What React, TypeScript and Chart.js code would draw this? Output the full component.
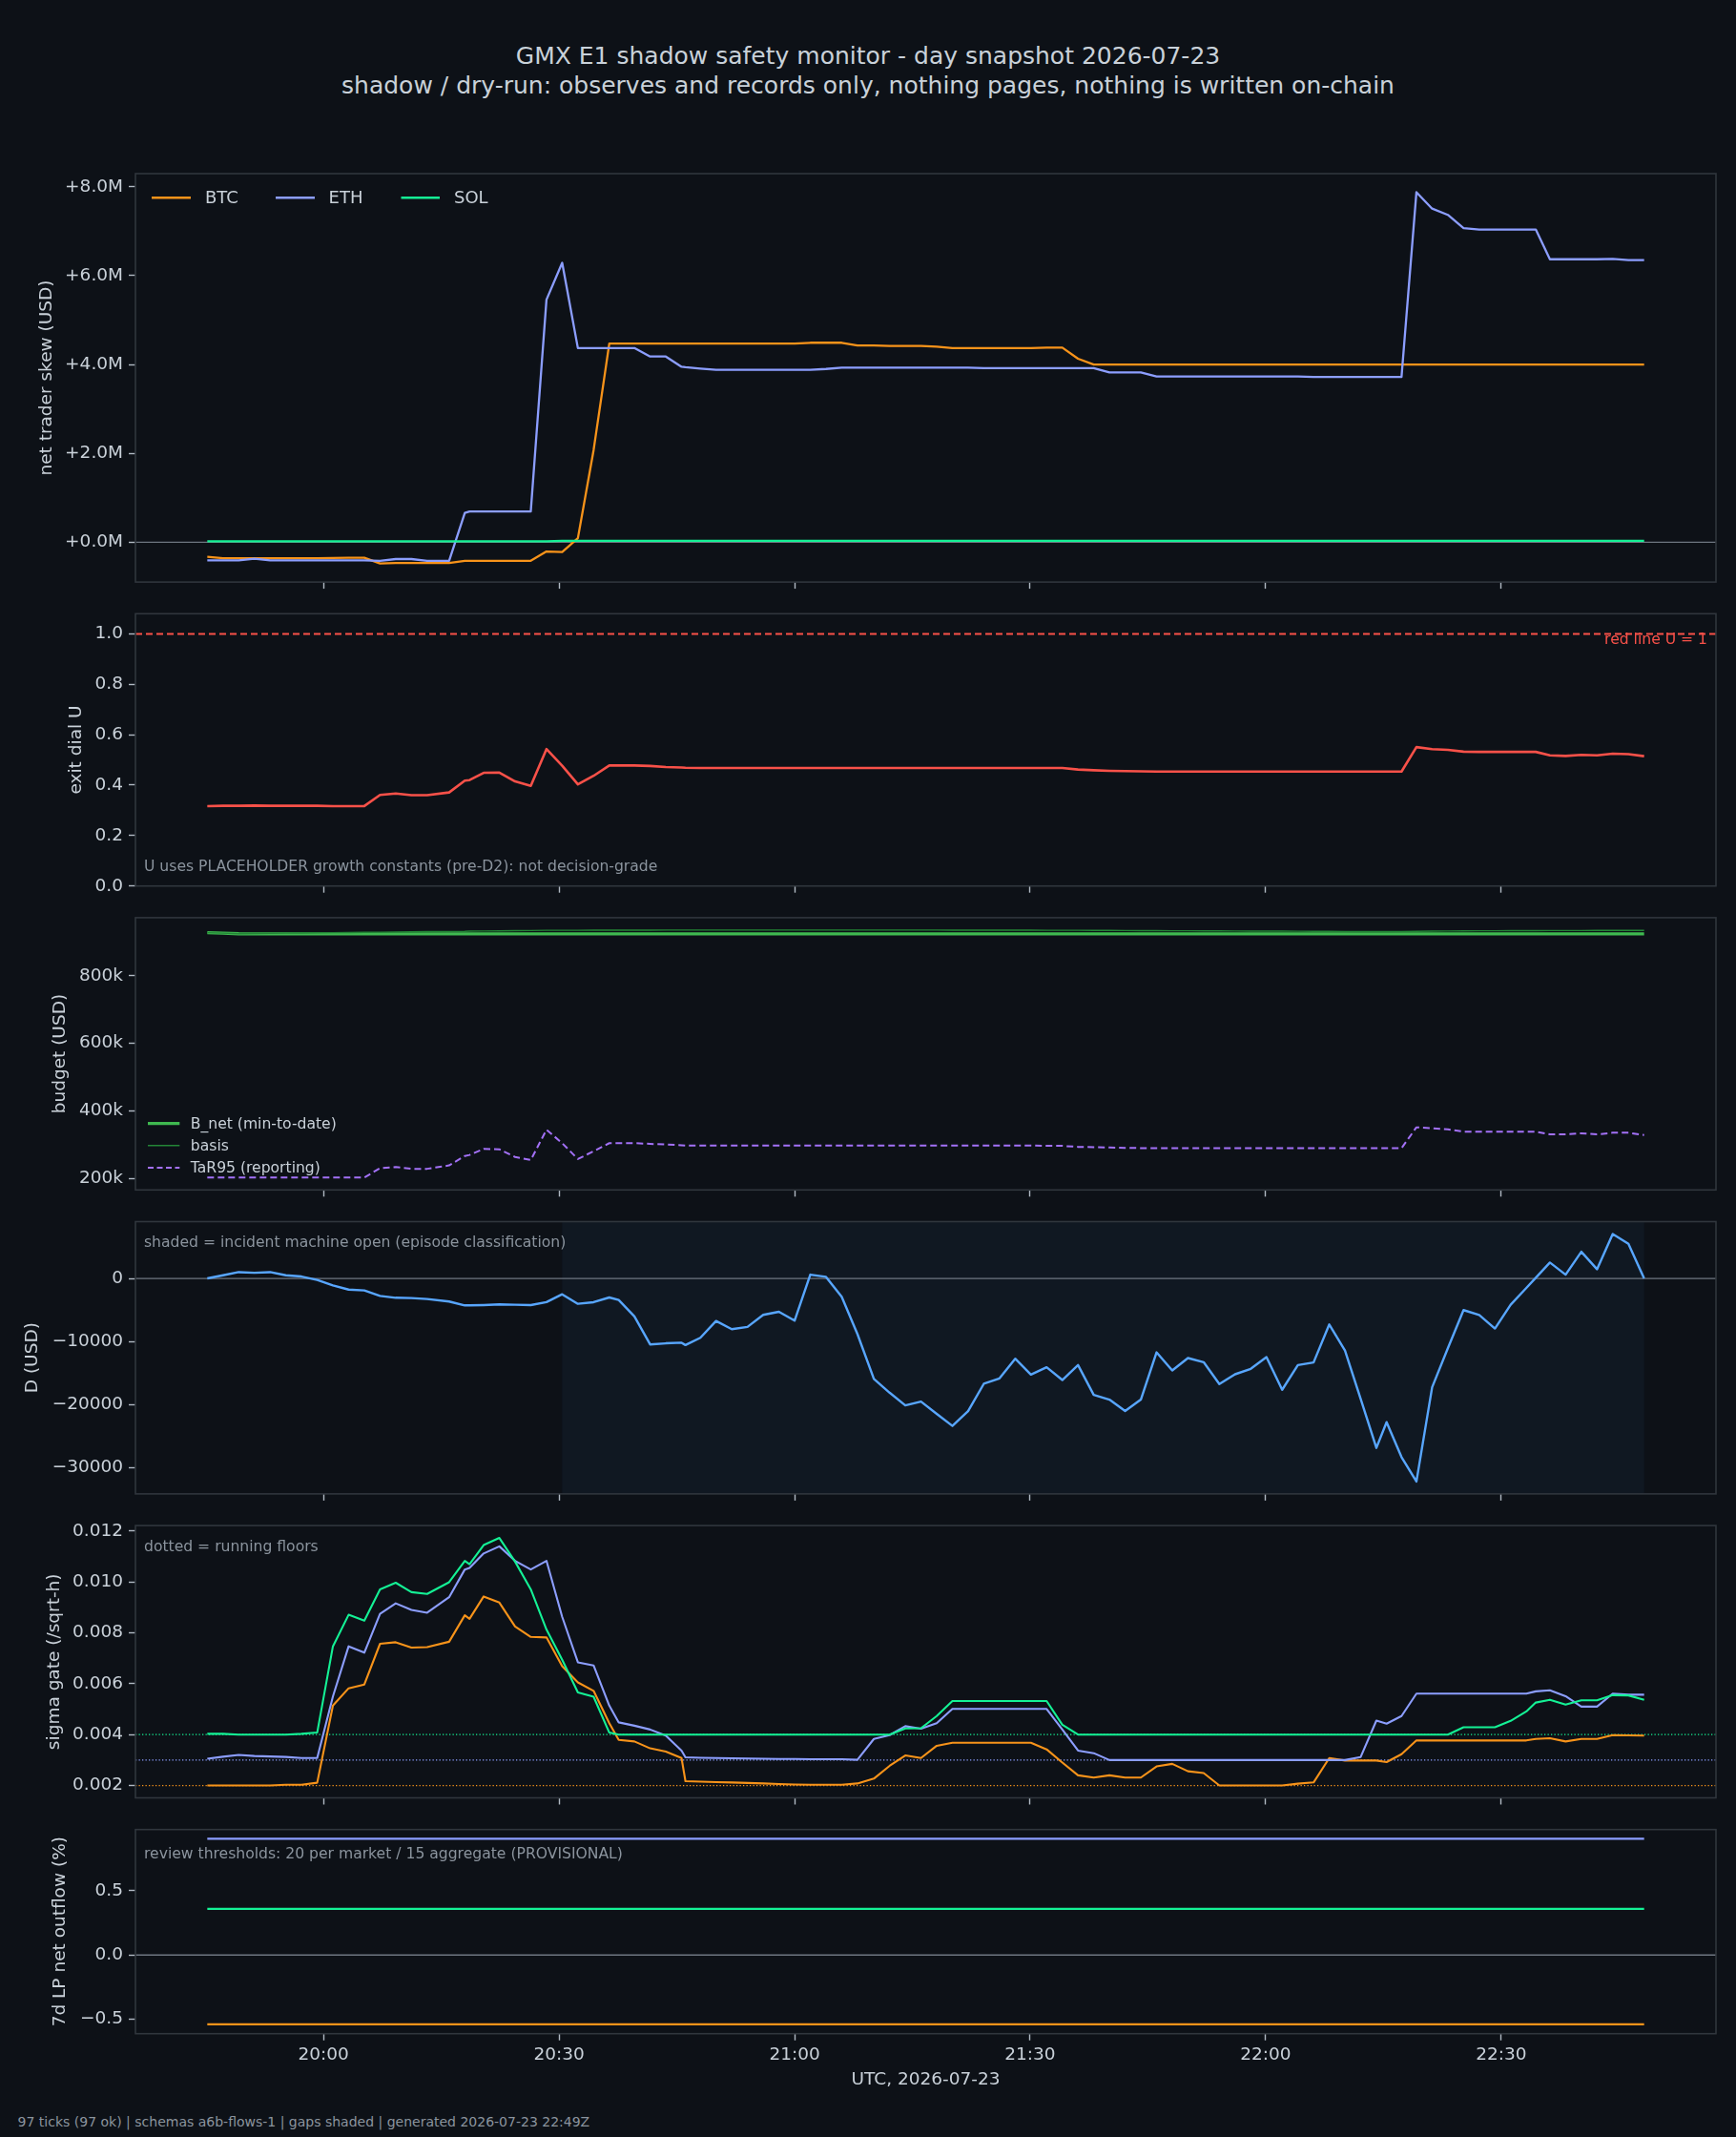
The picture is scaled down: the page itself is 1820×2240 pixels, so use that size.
import React, { useEffect, useRef } from "react";
import { Chart, registerables } from "chart.js";

Chart.register(...registerables);

// ---------------------------------------------------------------------------
// Sample clock: minutes after 19:00 UTC, 2026-07-23 (one entry per monitor tick)
// ---------------------------------------------------------------------------
const TIMES = [
  45.2, 47.2, 49.2, 51.2, 53.2, 55.2, 57.2, 59.2, 61.2, 63.2, 65.2, 67.2, 69.2, 71.2, 73.2,
  76.0, 78.0, 78.6, 80.4, 82.4, 84.4, 86.4, 88.4,
  90.4, 92.4, 94.4, 96.4, 97.6, 99.6, 101.6, 103.6, 105.6, 106.1,
  108.0, 110.0, 112.0, 114.0, 116.0, 118.0, 120.0, 122.0, 124.0, 126.0, 128.0,
  130.1, 132.1, 134.1, 136.1, 138.1, 140.1, 142.1, 144.1, 146.1, 148.1, 150.1,
  152.1, 154.1, 156.1, 158.1, 160.1, 162.1, 164.1, 166.1, 168.1, 170.1, 172.1,
  174.1, 176.1, 178.1, 180.1, 182.1, 184.1, 186.1, 188.1, 190.1, 192.1, 194.1,
  195.4, 197.3, 199.2, 201.2, 203.2, 205.2, 207.2, 209.2, 211.2, 213.2, 214.4,
  216.2, 218.2, 220.2, 222.2, 224.2, 226.2, 228.2,
];
const X_TICKS = [60, 90, 120, 150, 180, 210];

// net trader skew, USD millions
const SKEW_BTC = [
  -0.33, -0.36, -0.36, -0.36, -0.36, -0.36, -0.36, -0.36, -0.355, -0.35, -0.35, -0.48, -0.47, -0.47, -0.47,
  -0.47, -0.42, -0.42, -0.42, -0.42, -0.42, -0.42, -0.21,
  -0.22, 0.09, 2.07, 4.47, 4.47, 4.47, 4.47, 4.47, 4.47, 4.47,
  4.47, 4.47, 4.47, 4.47, 4.47, 4.47, 4.47, 4.49, 4.49, 4.49, 4.43,
  4.43, 4.42, 4.42, 4.42, 4.4, 4.37, 4.37, 4.37, 4.37, 4.37, 4.37,
  4.38, 4.38, 4.13, 4.0, 4.0, 4.0, 4.0, 4.0, 4.0, 4.0, 4.0,
  4.0, 4.0, 4.0, 4.0, 4.0, 4.0, 4.0, 4.0, 4.0, 4.0, 4.0,
  4.0, 4.0, 4.0, 4.0, 4.0, 4.0, 4.0, 4.0, 4.0, 4.0, 4.0,
  4.0, 4.0, 4.0, 4.0, 4.0, 4.0, 4.0,
];
const SKEW_ETH = [
  -0.41, -0.41, -0.41, -0.37, -0.41, -0.41, -0.41, -0.41, -0.41, -0.41, -0.41, -0.42, -0.38, -0.38, -0.42,
  -0.42, 0.66, 0.69, 0.69, 0.69, 0.69, 0.69, 5.46,
  6.29, 4.37, 4.37, 4.37, 4.37, 4.37, 4.18, 4.18, 3.95, 3.94,
  3.91, 3.88, 3.88, 3.88, 3.88, 3.88, 3.88, 3.88, 3.9, 3.93, 3.93,
  3.93, 3.93, 3.93, 3.93, 3.93, 3.93, 3.93, 3.92, 3.92, 3.92, 3.92,
  3.92, 3.92, 3.92, 3.92, 3.82, 3.82, 3.82, 3.73, 3.73, 3.73, 3.73,
  3.73, 3.73, 3.73, 3.73, 3.73, 3.73, 3.72, 3.72, 3.72, 3.72, 3.72,
  3.72, 3.72, 7.88, 7.51, 7.37, 7.07, 7.04, 7.04, 7.04, 7.04, 7.04,
  6.37, 6.37, 6.37, 6.37, 6.38, 6.35, 6.35,
];
const SKEW_SOL = [
  0.02, 0.02, 0.02, 0.02, 0.02, 0.02, 0.02, 0.02, 0.02, 0.02, 0.02, 0.02, 0.02, 0.02, 0.02,
  0.02, 0.02, 0.02, 0.02, 0.02, 0.02, 0.02, 0.02,
  0.03, 0.03, 0.03, 0.03, 0.03, 0.03, 0.03, 0.03, 0.03, 0.03,
  0.03, 0.03, 0.03, 0.03, 0.03, 0.03, 0.03, 0.03, 0.03, 0.03, 0.03,
  0.03, 0.03, 0.03, 0.03, 0.03, 0.03, 0.03, 0.03, 0.03, 0.03, 0.03,
  0.03, 0.03, 0.03, 0.03, 0.03, 0.03, 0.03, 0.03, 0.03, 0.03, 0.03,
  0.03, 0.03, 0.03, 0.03, 0.03, 0.03, 0.03, 0.03, 0.03, 0.03, 0.03,
  0.03, 0.03, 0.03, 0.03, 0.03, 0.03, 0.03, 0.03, 0.03, 0.03, 0.03,
  0.03, 0.03, 0.03, 0.03, 0.03, 0.03, 0.03,
];

// exit dial U
const EXIT_U = [
  0.317, 0.318, 0.318, 0.319, 0.318, 0.318, 0.318, 0.318, 0.317, 0.317, 0.317, 0.361, 0.367, 0.36, 0.36,
  0.371, 0.418, 0.42, 0.449, 0.45, 0.415, 0.397, 0.543,
  0.477, 0.403, 0.437, 0.478, 0.478, 0.478, 0.476, 0.472, 0.47, 0.469,
  0.468, 0.468, 0.468, 0.468, 0.468, 0.468, 0.468, 0.468, 0.468, 0.468, 0.468,
  0.468, 0.468, 0.468, 0.468, 0.468, 0.468, 0.468, 0.468, 0.468, 0.468, 0.468,
  0.468, 0.468, 0.462, 0.459, 0.457, 0.456, 0.455, 0.454, 0.454, 0.454, 0.454,
  0.454, 0.454, 0.454, 0.454, 0.454, 0.454, 0.454, 0.454, 0.454, 0.454, 0.454,
  0.454, 0.454, 0.551, 0.543, 0.54, 0.533, 0.532, 0.532, 0.532, 0.532, 0.532,
  0.518, 0.516, 0.52, 0.518, 0.525, 0.523, 0.515,
];
const RED_LINE_U = 1;

// budget, USD thousands
const B_NET = [
  928, 926.5, 924.8, 924.3, 924.3, 924.3, 924.3, 924.3, 924.3, 924.3, 924.3, 924.3, 924.3, 924.3, 924.3,
  924.3, 924.3, 924.3, 924.3, 924.3, 924.3, 924.3, 924.3,
  924.3, 924.3, 924.3, 924.3, 924.3, 924.3, 924.3, 924.3, 924.3, 924.3,
  924.3, 924.3, 924.3, 924.3, 924.3, 924.3, 924.3, 924.3, 924.3, 924.3, 924.3,
  924.3, 924.3, 924.3, 924.3, 924.3, 924.3, 924.3, 924.3, 924.3, 924.3, 924.3,
  924.3, 924.3, 924.3, 924.3, 924.3, 924.3, 924.3, 924.3, 924.3, 924.3, 924.3,
  924.3, 924.3, 924.3, 924.3, 924.3, 924.3, 924.3, 924.3, 924.3, 924.3, 924.3,
  924.3, 924.3, 924.3, 924.3, 924.3, 924.3, 924.3, 924.3, 924.3, 924.3, 924.3,
  924.3, 924.3, 924.3, 924.3, 924.3, 924.3, 924.3,
];
const BASIS = [
  928, 926.5, 925, 925.5, 926, 926.5, 927, 927.5, 928, 928.5, 929, 929.5, 930, 930.5, 931,
  931.5, 932, 932.5, 933, 933.5, 934, 934.5, 935,
  935, 935.2, 935.4, 935.5, 935.5, 935.6, 935.6, 935.7, 935.7, 935.7,
  935.8, 935.8, 935.8, 935.8, 935.8, 935.8, 935.8, 935.8, 935.8, 935.8, 935.8,
  935.8, 935.8, 935.7, 935.7, 935.7, 935.6, 935.6, 935.5, 935.5, 935.4, 935.3,
  935.2, 935.1, 935, 934.8, 934.6, 934.4, 934.2, 934, 933.8, 933.6, 933.4,
  933.2, 933, 932.8, 932.6, 932.4, 932.2, 932, 931.8, 931.6, 931.4, 931.3,
  931.3, 931.5, 932, 932.5, 933, 933.3, 933.6, 933.8, 934, 934.1, 934.2,
  934.3, 934.4, 934.5, 934.6, 934.7, 934.8, 934.8,
];
const TAR95 = [
  202, 202, 202, 202, 202, 202, 202, 202, 202, 202, 202, 230, 233, 228, 228,
  238, 266, 269, 287, 286, 263, 254, 344,
  304, 257, 280, 304, 304, 304, 302, 300, 298, 297,
  297, 297, 297, 297, 297, 297, 297, 297, 297, 297, 297,
  297, 297, 297, 297, 297, 297, 297, 297, 297, 297, 297,
  296, 296, 293, 292, 291, 290, 289.5, 289, 289, 289, 289,
  289, 289, 289, 289, 289, 289, 289, 289, 289, 289, 289,
  289, 289, 351, 348, 345, 338, 338, 338, 338, 338, 338,
  330, 330, 333, 330, 335, 335, 328,
];

// D, USD
const D_USD = [
  0, 500, 1000, 900, 1000, 500, 300, -250, -1100, -1770, -1900, -2770, -3070, -3120, -3270,
  -3670, -4280, -4280, -4230, -4130, -4180, -4230, -3770,
  -2520, -4030, -3770, -3020, -3420, -6040, -10470, -10300, -10200, -10570,
  -9420, -6750, -8050, -7700, -5790, -5290, -6700, 600, 250, -2920, -8810,
  -15960, -18130, -20140, -19540, -21500, -23410, -21050, -16720, -15860, -12740, -15260,
  -14100, -16120, -13750, -18480, -19230, -21050, -19230, -11730, -14600, -12640, -13290,
  -16770, -15210, -14350, -12490, -17670, -13750, -13340, -7300, -11430, -19130, -26890,
  -22810, -28350, -32230, -17270, -11080, -5030, -5790, -7950, -4180, -1510, 100,
  2520, 600, 4230, 1460, 7050, 5490, 0,
];
const INCIDENT_OPEN = 90.4;
const INCIDENT_LAST = 228.2;

// sigma gate, per sqrt-hour
const SIGMA_BTC = [
  0.002, 0.002, 0.002, 0.002, 0.002, 0.00203, 0.00203, 0.00211, 0.00514, 0.00582, 0.00597, 0.00757, 0.00763, 0.00742, 0.00744,
  0.00765, 0.00869, 0.00855, 0.00943, 0.00919, 0.00825, 0.00784, 0.00782,
  0.00669, 0.00605, 0.00572, 0.00445, 0.00379, 0.00373, 0.00346, 0.00333, 0.00308, 0.00217,
  0.00215, 0.00213, 0.00212, 0.0021, 0.00208, 0.00206, 0.00204, 0.00203, 0.00203, 0.00203, 0.00208,
  0.00227, 0.00277, 0.00318, 0.00308, 0.00356, 0.00368, 0.00368, 0.00368, 0.00368, 0.00368, 0.00368,
  0.00342, 0.0029, 0.0024, 0.00231, 0.0024, 0.00231, 0.00231, 0.00275, 0.00285, 0.00256, 0.00249,
  0.002, 0.002, 0.002, 0.002, 0.002, 0.00207, 0.00212, 0.00308, 0.00298, 0.00298, 0.00298,
  0.00292, 0.00323, 0.00377, 0.00377, 0.00377, 0.00377, 0.00377, 0.00377, 0.00377, 0.00377, 0.00383,
  0.00386, 0.00373, 0.00383, 0.00383, 0.00398, 0.00397, 0.00396,
];
const SIGMA_ETH = [
  0.00305, 0.00313, 0.0032, 0.00316, 0.00314, 0.00312, 0.00308, 0.00308, 0.0055, 0.00747, 0.00722, 0.00875, 0.00916, 0.0089, 0.00879,
  0.0094, 0.01049, 0.01055, 0.01112, 0.0114, 0.01083, 0.01049, 0.01083,
  0.00863, 0.00684, 0.00672, 0.00514, 0.00448, 0.00435, 0.0042, 0.00396, 0.00337, 0.00311,
  0.00309, 0.00308, 0.00307, 0.00306, 0.00305, 0.00304, 0.00304, 0.00303, 0.00303, 0.00303, 0.00301,
  0.00383, 0.00398, 0.00433, 0.00423, 0.00445, 0.00501, 0.00501, 0.00501, 0.00501, 0.00501, 0.00501,
  0.00501, 0.0042, 0.00337, 0.00327, 0.003, 0.003, 0.003, 0.003, 0.003, 0.003, 0.003,
  0.003, 0.003, 0.003, 0.003, 0.003, 0.003, 0.003, 0.003, 0.003, 0.00312, 0.00455,
  0.00443, 0.00473, 0.00561, 0.00561, 0.00561, 0.00561, 0.00561, 0.00561, 0.00561, 0.00561, 0.0057,
  0.00574, 0.00551, 0.0051, 0.0051, 0.00561, 0.00557, 0.00557,
];
const SIGMA_SOL = [
  0.00403, 0.00403, 0.004, 0.004, 0.004, 0.004, 0.00403, 0.00408, 0.00747, 0.00871, 0.00848, 0.00971, 0.00997, 0.0096, 0.00953,
  0.00999, 0.01083, 0.0107, 0.01145, 0.01173, 0.0108, 0.00971, 0.00813,
  0.00694, 0.00566, 0.00549, 0.00408, 0.004, 0.004, 0.004, 0.004, 0.004, 0.004,
  0.004, 0.004, 0.004, 0.004, 0.004, 0.004, 0.004, 0.004, 0.004, 0.004, 0.004,
  0.004, 0.004, 0.00424, 0.00425, 0.00473, 0.00532, 0.00532, 0.00532, 0.00532, 0.00532, 0.00532,
  0.00532, 0.00439, 0.004, 0.004, 0.004, 0.004, 0.004, 0.004, 0.004, 0.004, 0.004,
  0.004, 0.004, 0.004, 0.004, 0.004, 0.004, 0.004, 0.004, 0.004, 0.004, 0.004,
  0.004, 0.004, 0.004, 0.004, 0.004, 0.00429, 0.00429, 0.00429, 0.00454, 0.00491, 0.00526,
  0.00537, 0.00518, 0.00535, 0.00535, 0.00555, 0.00554, 0.00537,
];
const FLOOR_BTC = 0.002;
const FLOOR_ETH = 0.003;
const FLOOR_SOL = 0.004;

// 7d LP net outflow, percent (flat through the day)
const OUTFLOW_TIMES = [45.2, 228.2];
const OUTFLOW_BTC = [-0.54, -0.54];
const OUTFLOW_ETH = [0.905, 0.905];
const OUTFLOW_SOL = [0.36, 0.36];

const TITLE = "GMX E1 shadow safety monitor - day snapshot 2026-07-23";
const SUBTITLE = "shadow / dry-run: observes and records only, nothing pages, nothing is written on-chain";
const FOOTER = "97 ticks (97 ok) | schemas a6b-flows-1 | gaps shaded | generated 2026-07-23 22:49Z";

// ---------------------------------------------------------------------------
// styling
// ---------------------------------------------------------------------------
const FONT = '"DejaVu Sans", "Liberation Sans", sans-serif';
const FIG_W = 1820;
const FIG_H = 2240;
const FIG_BG = "#0d1117";
const AX_BG = "#0d1117";
const SPINE = "#30363d";
const TEXT = "#c9d1d9";
const MUTED = "#8b949e";
const TICK_MARK = "#b1bac4";
const ZERO = "#6e7681";
const C_BTC = "#f7931a";
const C_ETH = "#8c9eff";
const C_SOL = "#14f195";
const C_U = "#f85149";
const C_BNET = "#3fb950";
const C_BASIS = "#238636";
const C_TAR = "#a371f7";
const C_D = "#58a6ff";
const SPAN_FILL = "rgba(88,166,255,0.05)";

const TICK_SIZE = 18.5;
const LABEL_SIZE = 18.5;
const NOTE_SIZE = 15.6;

const AX_LEFT = 142;
const AX_RIGHT = 1799;
const CANVAS_PAD = 22;

const X_SPAN = TIMES[TIMES.length - 1] - TIMES[0];
const X_MIN = TIMES[0] - 0.05 * X_SPAN;
const X_MAX = TIMES[TIMES.length - 1] + 0.05 * X_SPAN;

function autoRange(arrays: number[][]): [number, number] {
  let lo = Infinity;
  let hi = -Infinity;
  for (const arr of arrays) {
    for (const v of arr) {
      if (v < lo) lo = v;
      if (v > hi) hi = v;
    }
  }
  const pad = (hi - lo) * 0.05;
  return [lo - pad, hi + pad];
}

const minus = (s: string) => s.replace("-", "\u2212");

function clock(v: number) {
  const h = 19 + Math.floor(v / 60);
  const m = Math.round(v % 60);
  return `${h}:${m < 10 ? "0" + m : m}`;
}

type Line = {
  label: string;
  x: number[];
  y: number[];
  color: string;
  width: number;
  dash?: number[];
};
type HLine = { value: number; color: string; width: number; dash?: number[] };
type Note = { text: string; x: number; y: number; align: CanvasTextAlign; color: string };
type LegendEntry = { label: string; color: string; width: number; dash?: number[]; x0: number; x1: number; tx: number; y: number };

type Panel = {
  top: number;
  height: number;
  ylabel: string;
  ylabelX: number;
  range: [number, number];
  yTicks: number[];
  fmt: (v: number) => string;
  lines: Line[];
  hlines: HLine[];
  notes: Note[];
  legend: LegendEntry[];
  legendSize: number;
  span?: [number, number];
  last?: boolean;
};

const PANELS: Panel[] = [
  {
    top: 182,
    height: 428.1,
    ylabel: "net trader skew (USD)",
    ylabelX: 49,
    range: autoRange([SKEW_BTC, SKEW_ETH, SKEW_SOL]),
    yTicks: [0, 2, 4, 6, 8],
    fmt: (v) => (v >= 0 ? "+" : "\u2212") + Math.abs(v).toFixed(1) + "M",
    lines: [
      { label: "BTC", x: TIMES, y: SKEW_BTC, color: C_BTC, width: 2.3 },
      { label: "ETH", x: TIMES, y: SKEW_ETH, color: C_ETH, width: 2.3 },
      { label: "SOL", x: TIMES, y: SKEW_SOL, color: C_SOL, width: 2.3 },
    ],
    hlines: [{ value: 0, color: ZERO, width: 1.3 }],
    notes: [],
    legendSize: 18,
    legend: [
      { label: "BTC", color: C_BTC, width: 2.6, x0: 159, x1: 200, tx: 215, y: 207.3 },
      { label: "ETH", color: C_ETH, width: 2.6, x0: 289, x1: 330, tx: 344.6, y: 207.3 },
      { label: "SOL", color: C_SOL, width: 2.6, x0: 420.5, x1: 461, tx: 476, y: 207.3 },
    ],
  },
  {
    top: 643.3,
    height: 285.4,
    ylabel: "exit dial U",
    ylabelX: 80,
    range: [0, 1.08],
    yTicks: [0, 0.2, 0.4, 0.6, 0.8, 1.0],
    fmt: (v) => v.toFixed(1),
    lines: [{ label: "U", x: TIMES, y: EXIT_U, color: C_U, width: 2.6 }],
    hlines: [{ value: RED_LINE_U, color: C_U, width: 1.9, dash: [7, 4] }],
    notes: [
      { text: "U uses PLACEHOLDER growth constants (pre-D2): not decision-grade", x: 151, y: 909.3, align: "left", color: MUTED },
      { text: "red line U = 1", x: 1790, y: 671, align: "right", color: C_U },
    ],
    legendSize: 15.6,
    legend: [],
  },
  {
    top: 961.9,
    height: 285.4,
    ylabel: "budget (USD)",
    ylabelX: 63.5,
    range: autoRange([B_NET, BASIS, TAR95]),
    yTicks: [200, 400, 600, 800],
    fmt: (v) => `${v}k`,
    lines: [
      { label: "B_net (min-to-date)", x: TIMES, y: B_NET, color: C_BNET, width: 3.3 },
      { label: "basis", x: TIMES, y: BASIS, color: C_BASIS, width: 1.4 },
      { label: "TaR95 (reporting)", x: TIMES, y: TAR95, color: C_TAR, width: 2.0, dash: [7, 4] },
    ],
    hlines: [],
    notes: [],
    legendSize: 15.6,
    legend: [
      { label: "B_net (min-to-date)", color: C_BNET, width: 3.3, x0: 155, x1: 188.3, tx: 199.8, y: 1177.7 },
      { label: "basis", color: C_BASIS, width: 1.4, x0: 155, x1: 188.3, tx: 199.8, y: 1200.7 },
      { label: "TaR95 (reporting)", color: C_TAR, width: 2.0, dash: [6, 3.5], x0: 155, x1: 188.3, tx: 199.8, y: 1224 },
    ],
  },
  {
    top: 1280.5,
    height: 285.4,
    ylabel: "D (USD)",
    ylabelX: 34.5,
    range: autoRange([D_USD]),
    yTicks: [-30000, -20000, -10000, 0],
    fmt: (v) => minus(String(v)),
    lines: [{ label: "D", x: TIMES, y: D_USD, color: C_D, width: 2.4 }],
    hlines: [{ value: 0, color: ZERO, width: 1.3 }],
    notes: [
      { text: "shaded = incident machine open (episode classification)", x: 151, y: 1303.3, align: "left", color: MUTED },
    ],
    legendSize: 15.6,
    legend: [],
    span: [INCIDENT_OPEN, INCIDENT_LAST],
  },
  {
    top: 1599.1,
    height: 285.4,
    ylabel: "sigma gate (/sqrt-h)",
    ylabelX: 57,
    range: autoRange([SIGMA_BTC, SIGMA_ETH, SIGMA_SOL, [FLOOR_BTC, FLOOR_ETH, FLOOR_SOL]]),
    yTicks: [0.002, 0.004, 0.006, 0.008, 0.01, 0.012],
    fmt: (v) => v.toFixed(3),
    lines: [
      { label: "BTC", x: TIMES, y: SIGMA_BTC, color: C_BTC, width: 2.1 },
      { label: "ETH", x: TIMES, y: SIGMA_ETH, color: C_ETH, width: 2.1 },
      { label: "SOL", x: TIMES, y: SIGMA_SOL, color: C_SOL, width: 2.1 },
    ],
    hlines: [
      { value: FLOOR_BTC, color: C_BTC, width: 1.3, dash: [1.3, 2.2] },
      { value: FLOOR_ETH, color: C_ETH, width: 1.3, dash: [1.3, 2.2] },
      { value: FLOOR_SOL, color: C_SOL, width: 1.3, dash: [1.3, 2.2] },
    ],
    notes: [{ text: "dotted = running floors", x: 151, y: 1622.3, align: "left", color: MUTED }],
    legendSize: 15.6,
    legend: [],
  },
  {
    top: 1917.7,
    height: 214,
    ylabel: "7d LP net outflow (%)",
    ylabelX: 63,
    range: autoRange([OUTFLOW_BTC, OUTFLOW_ETH, OUTFLOW_SOL]),
    yTicks: [-0.5, 0, 0.5],
    fmt: (v) => minus(v.toFixed(1)),
    lines: [
      { label: "BTC", x: OUTFLOW_TIMES, y: OUTFLOW_BTC, color: C_BTC, width: 2.3 },
      { label: "ETH", x: OUTFLOW_TIMES, y: OUTFLOW_ETH, color: C_ETH, width: 2.3 },
      { label: "SOL", x: OUTFLOW_TIMES, y: OUTFLOW_SOL, color: C_SOL, width: 2.3 },
    ],
    hlines: [{ value: 0, color: ZERO, width: 1.3 }],
    notes: [
      { text: "review thresholds: 20 per market / 15 aggregate (PROVISIONAL)", x: 151, y: 1944, align: "left", color: MUTED },
    ],
    legendSize: 15.6,
    legend: [],
    last: true,
  },
];

function decorPlugin(p: Panel, canvasTop: number) {
  return {
    id: "panelDecor",
    beforeDatasetsDraw(chart: any) {
      const { ctx, chartArea: a } = chart;
      const xs = chart.scales.x;
      const ys = chart.scales.y;
      ctx.save();
      ctx.fillStyle = AX_BG;
      ctx.fillRect(a.left, a.top, a.right - a.left, a.bottom - a.top);
      if (p.span) {
        const x0 = xs.getPixelForValue(p.span[0]);
        const x1 = xs.getPixelForValue(p.span[1]);
        ctx.fillStyle = SPAN_FILL;
        ctx.fillRect(x0, a.top, x1 - x0, a.bottom - a.top);
      }
      for (const h of p.hlines) {
        const py = ys.getPixelForValue(h.value);
        ctx.beginPath();
        ctx.setLineDash(h.dash || []);
        ctx.lineWidth = h.width;
        ctx.strokeStyle = h.color;
        ctx.moveTo(a.left, py);
        ctx.lineTo(a.right, py);
        ctx.stroke();
      }
      ctx.restore();
    },
    afterDatasetsDraw(chart: any) {
      const { ctx, chartArea: a } = chart;
      ctx.save();
      ctx.setLineDash([]);
      ctx.strokeStyle = SPINE;
      ctx.lineWidth = 1.6;
      ctx.strokeRect(a.left, a.top, a.right - a.left, a.bottom - a.top);

      ctx.textBaseline = "middle";
      ctx.font = `${NOTE_SIZE}px ${FONT}`;
      for (const n of p.notes) {
        ctx.fillStyle = n.color;
        ctx.textAlign = n.align;
        ctx.fillText(n.text, n.x, n.y - canvasTop);
      }

      ctx.font = `${p.legendSize}px ${FONT}`;
      ctx.textAlign = "left";
      for (const e of p.legend) {
        const y = e.y - canvasTop;
        ctx.beginPath();
        ctx.setLineDash(e.dash || []);
        ctx.lineWidth = e.width;
        ctx.strokeStyle = e.color;
        ctx.moveTo(e.x0, y);
        ctx.lineTo(e.x1, y);
        ctx.stroke();
        ctx.setLineDash([]);
        ctx.fillStyle = TEXT;
        ctx.fillText(e.label, e.tx, y + 1);
      }
      ctx.restore();
    },
  };
}

function PanelChart({ p }: { p: Panel }) {
  const ref = useRef<HTMLCanvasElement | null>(null);
  const canvasTop = Math.floor(p.top - CANVAS_PAD);
  const padTop = p.top - canvasTop;
  const xAxisH = p.last ? 59.5 : 8;
  const canvasH = Math.ceil(padTop + p.height + xAxisH + (p.last ? 6 : CANVAS_PAD));
  const padBottom = canvasH - padTop - p.height - xAxisH;
  const padLeft = p.ylabelX - (LABEL_SIZE * 1.2) / 2;

  useEffect(() => {
    if (!ref.current) return;
    const n = p.lines.length;
    const chart = new Chart(ref.current, {
      type: "line",
      data: {
        datasets: p.lines.map((l, i) => ({
          label: l.label,
          data: l.x.map((t, k) => ({ x: t, y: l.y[k] })),
          borderColor: l.color,
          backgroundColor: l.color,
          borderWidth: l.width,
          borderDash: l.dash || [],
          borderJoinStyle: "round",
          pointRadius: 0,
          pointHoverRadius: 0,
          tension: 0,
          fill: false,
          order: n - 1 - i,
        })),
      },
      options: {
        responsive: false,
        maintainAspectRatio: false,
        animation: false,
        devicePixelRatio: 1,
        events: [],
        layout: {
          padding: { left: padLeft, right: FIG_W - AX_RIGHT, top: padTop, bottom: padBottom },
        },
        plugins: {
          legend: { display: false },
          tooltip: { enabled: false },
          title: { display: false },
        },
        scales: {
          x: {
            type: "linear",
            min: X_MIN,
            max: X_MAX,
            bounds: "data",
            afterBuildTicks: (axis: any) => {
              axis.ticks = X_TICKS.map((v) => ({ value: v }));
            },
            afterFit: (axis: any) => {
              axis.height = xAxisH;
            },
            ticks: {
              display: !!p.last,
              autoSkip: false,
              maxRotation: 0,
              color: TEXT,
              padding: 4.5,
              font: { family: FONT, size: TICK_SIZE },
              callback: (v: any) => clock(Number(v)),
            },
            grid: {
              display: true,
              drawOnChartArea: false,
              drawTicks: true,
              tickLength: 7,
              tickColor: TICK_MARK,
              tickWidth: 1.4,
            },
            border: { display: false },
            title: {
              display: !!p.last,
              text: "UTC, 2026-07-23",
              color: TEXT,
              font: { family: FONT, size: LABEL_SIZE },
              padding: { top: 0, bottom: 0 },
            },
          },
          y: {
            type: "linear",
            position: "left",
            min: p.range[0],
            max: p.range[1],
            bounds: "data",
            afterBuildTicks: (axis: any) => {
              axis.ticks = p.yTicks.map((v) => ({ value: v }));
            },
            afterFit: (axis: any) => {
              axis.width = AX_LEFT - padLeft;
            },
            ticks: {
              autoSkip: false,
              color: TEXT,
              padding: 6,
              font: { family: FONT, size: TICK_SIZE },
              callback: (v: any) => p.fmt(Number(v)),
            },
            grid: {
              display: true,
              drawOnChartArea: false,
              drawTicks: true,
              tickLength: 7,
              tickColor: TICK_MARK,
              tickWidth: 1.4,
            },
            border: { display: false },
            title: {
              display: true,
              text: p.ylabel,
              color: TEXT,
              font: { family: FONT, size: LABEL_SIZE },
              padding: { top: 0, bottom: 0 },
            },
          },
        },
      },
      plugins: [decorPlugin(p, canvasTop)],
    } as any);
    return () => chart.destroy();
  }, []);

  return (
    <canvas
      ref={ref}
      width={FIG_W}
      height={canvasH}
      style={{ position: "absolute", left: 0, top: canvasTop, width: FIG_W, height: canvasH, display: "block" }}
    />
  );
}

export default function App() {
  useEffect(() => {
    document.body.style.margin = "0";
    document.body.style.background = FIG_BG;
  }, []);

  return (
    <div
      style={{
        position: "absolute",
        left: 0,
        top: 0,
        width: FIG_W,
        height: FIG_H,
        background: FIG_BG,
        overflow: "hidden",
        fontFamily: FONT,
      }}
    >
      <div
        style={{
          position: "absolute",
          left: 0,
          top: 42.6,
          width: FIG_W,
          textAlign: "center",
          color: TEXT,
          fontSize: 25,
          lineHeight: "31px",
          whiteSpace: "pre",
        }}
      >
        {TITLE + "\n" + SUBTITLE}
      </div>
      {PANELS.map((p, i) => (
        <PanelChart key={i} p={p} />
      ))}
      <div
        style={{
          position: "absolute",
          left: 18.6,
          top: 2215.5,
          color: MUTED,
          fontSize: 14,
          lineHeight: "17px",
          whiteSpace: "pre",
        }}
      >
        {FOOTER}
      </div>
    </div>
  );
}
